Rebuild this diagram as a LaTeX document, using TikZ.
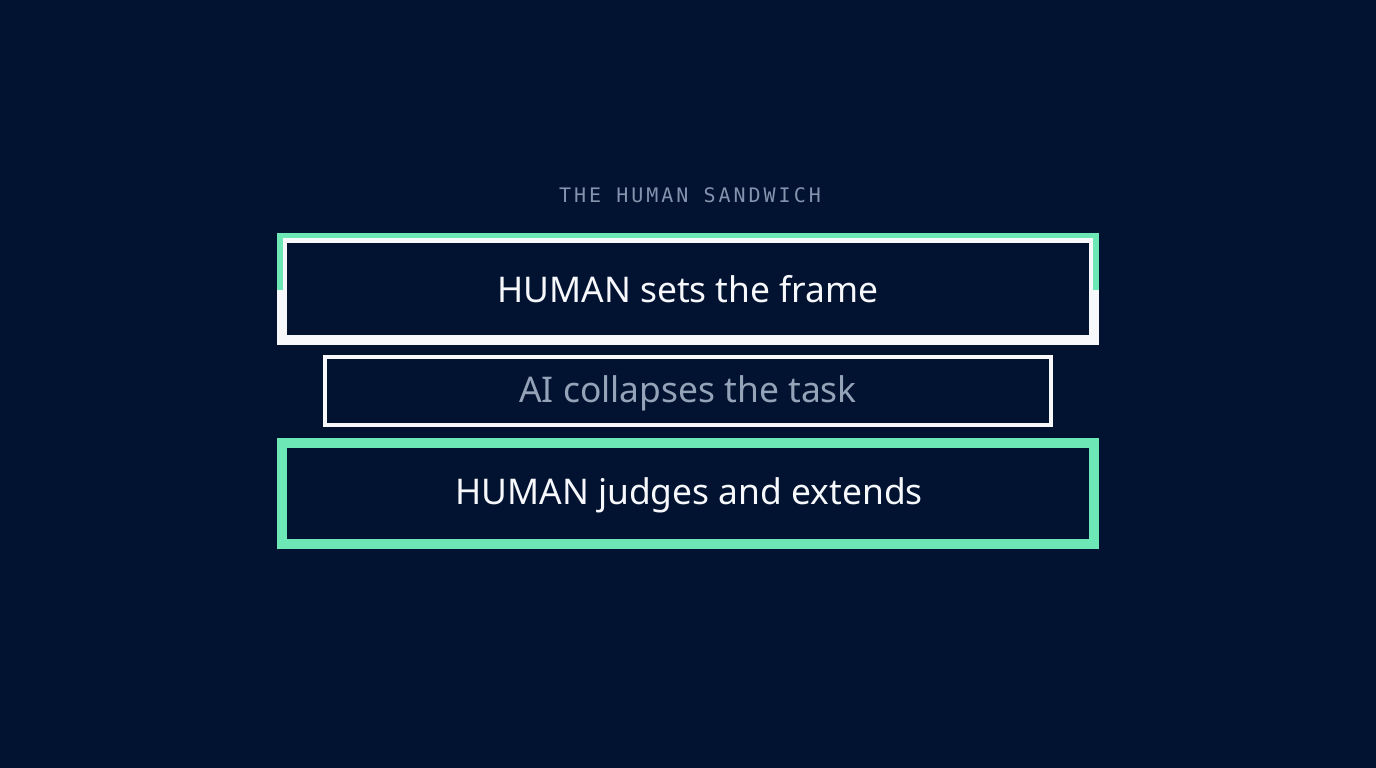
\documentclass[tikz,border=0pt]{standalone}
\usepackage{fontspec}
\setmainfont{Noto Sans}
\newfontfamily\titlefont[LetterSpace=15]{DejaVu Sans Mono}
\definecolor{bg}{HTML}{021331}
\definecolor{mint}{HTML}{6EE7B7}
\definecolor{slate}{HTML}{94A3B8}
\definecolor{titlegray}{HTML}{8494AE}
\definecolor{offwhite}{HTML}{F6F8FB}
\begin{document}
\begin{tikzpicture}[x=1pt,y=-1pt,
  boxlabel/.style={anchor=base,inner sep=0pt,font=\fontsize{35.4}{40}\selectfont},
]
\fill[bg] (0,0) rectangle (1376,768);
\useasboundingbox (0,0) rectangle (1376,768);
% top box
\draw[offwhite,line width=10pt] (282,238) rectangle (1094,340);
\draw[mint,line width=5.5pt] (280,290) -- (280,235.5) -- (1096,235.5) -- (1096,290);
% middle box
\draw[offwhite,line width=4pt] (325,357) rectangle (1051,425);
% bottom box
\draw[mint,line width=10pt] (282,443) rectangle (1094,544);
\node[anchor=base,inner sep=0pt,titlegray,font=\titlefont\fontsize{20}{24}\selectfont] (title) at (690,202) {THE HUMAN SANDWICH};
\node[boxlabel,offwhite] (top) at (688,302) {HUMAN sets the frame};
\node[boxlabel,slate] (mid) at (688,402) {AI collapses the task};
\node[boxlabel,offwhite] (bot) at (689,504) {HUMAN judges and extends};
\end{tikzpicture}
\end{document}
